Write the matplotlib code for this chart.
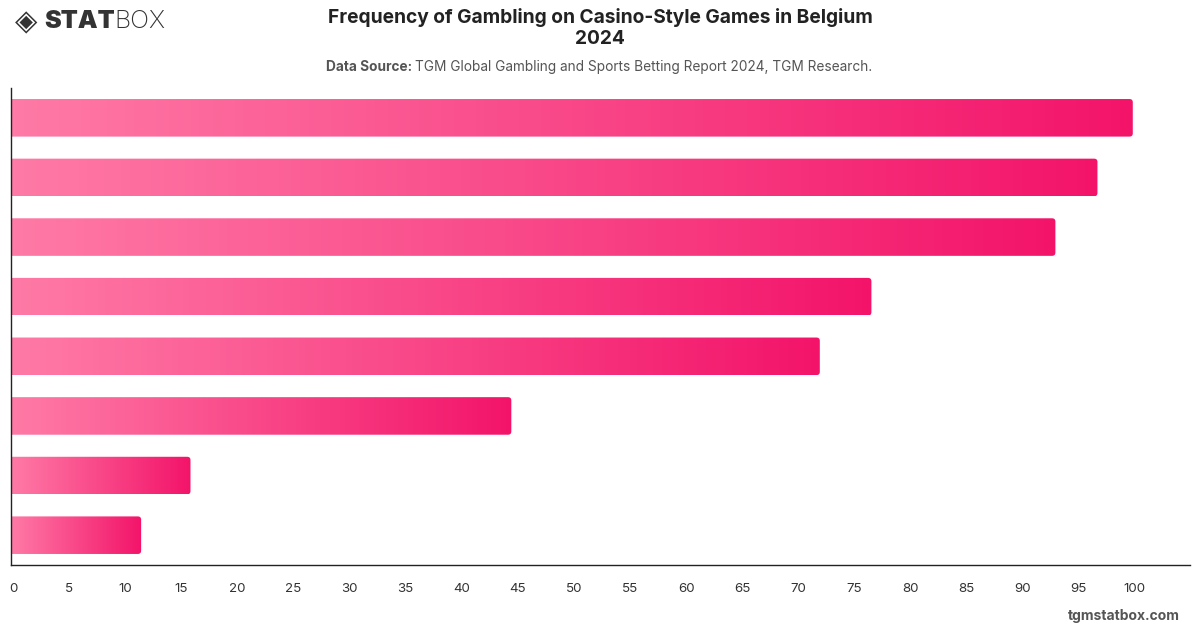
import numpy as np
import matplotlib
matplotlib.use("Agg")
import matplotlib.pyplot as plt
from matplotlib.colors import LinearSegmentedColormap
from matplotlib.patches import FancyBboxPatch
from matplotlib.transforms import ScaledTranslation

plt.rcParams['font.family'] = ['Inter', 'DejaVu Sans']

categories = ["A", "B", "C", "D", "E", "F", "G", "H"]
values = [100.0, 96.85, 93.1, 76.7, 72.1, 44.6, 16.0, 11.6]
xticks = list(range(0, 101, 5))

title = "Frequency of Gambling on Casino-Style Games in Belgium\n2024"

fig = plt.figure(figsize=(12, 6.28), dpi=100)
ax = fig.add_axes([11/1200, (628-565)/628, (1190-11)/1200, (565-88)/628])

n = len(values)
ypos = np.arange(n)
bars = ax.barh(ypos, values, height=0.63, color='none', edgecolor='none')
ax.set_ylim(n - 0.5, -0.5)
ax.set_xlim(0, 105.1)

cmap = LinearSegmentedColormap.from_list("g", ["#ff7aa6", "#f3146a"])
grad = np.linspace(0, 1, 256).reshape(1, -1)
for b in bars:
    x0, y0 = b.get_x(), b.get_y()
    w, h = b.get_width(), b.get_height()
    clip = FancyBboxPatch((x0 - 1, y0), w + 1, h,
                          boxstyle="round,pad=0,rounding_size=0.3",
                          mutation_aspect=0.18, transform=ax.transData,
                          facecolor='none', edgecolor='none')
    ax.add_patch(clip)
    im = ax.imshow(grad, cmap=cmap, aspect='auto',
                   extent=(x0, x0 + w, y0 + h, y0), zorder=2)
    im.set_clip_path(clip)

ax.set_ylim(n - 0.5, -0.5)
ax.set_xlim(0, 105.1)
ax.set_xticks(xticks)
ax.set_xticklabels([str(t) for t in xticks])
ax.set_yticks([])
ax.tick_params(axis='x', length=0, pad=13, labelsize=9.6, labelcolor='#333333')
offset = ScaledTranslation(2/100, 0, fig.dpi_scale_trans)
for lab in ax.get_xticklabels():
    lab.set_transform(lab.get_transform() + offset)
for s in ['top', 'right']:
    ax.spines[s].set_visible(False)
for s in ['left', 'bottom']:
    ax.spines[s].set_color('#222222')
    ax.spines[s].set_linewidth(1.0)

fig.text(0.5, 1 - 28/628, title, ha='center', va='center', fontsize=13.8,
         fontweight='bold', color='#222222', linespacing=1.22)
sub1 = "Data Source: "
sub2 = "TGM Global Gambling and Sports Betting Report 2024, TGM Research."
t1 = fig.text(326/1200, 1 - 67/628, sub1, ha='left', va='center', fontsize=9.85,
              fontweight='bold', color='#555555')
fig.canvas.draw()
bb = t1.get_window_extent()
fig.text(bb.x1 / 1200, 1 - 67/628, sub2, ha='left', va='center', fontsize=9.85,
         color='#555555')

# logo
fig.text(15/1200, 1 - 22/628, "◈", ha='left', va='center', fontsize=21,
         color='#333333', family=['DejaVu Sans'])
t2 = fig.text(44/1200, 1 - 22/628, "STAT", ha='left', va='center', fontsize=18,
              fontweight='black', color='#333333')
fig.canvas.draw()
bb2 = t2.get_window_extent()
fig.text(bb2.x1 / 1200, 1 - 22/628, "BOX", ha='left', va='center', fontsize=18,
         fontweight='light', color='#333333')

fig.text(1180/1200, 1 - 616/628, "tgmstatbox.com", ha='right', va='center',
         fontsize=10, fontweight='bold', color='#555555')

fig.savefig("out.png", dpi=100)
